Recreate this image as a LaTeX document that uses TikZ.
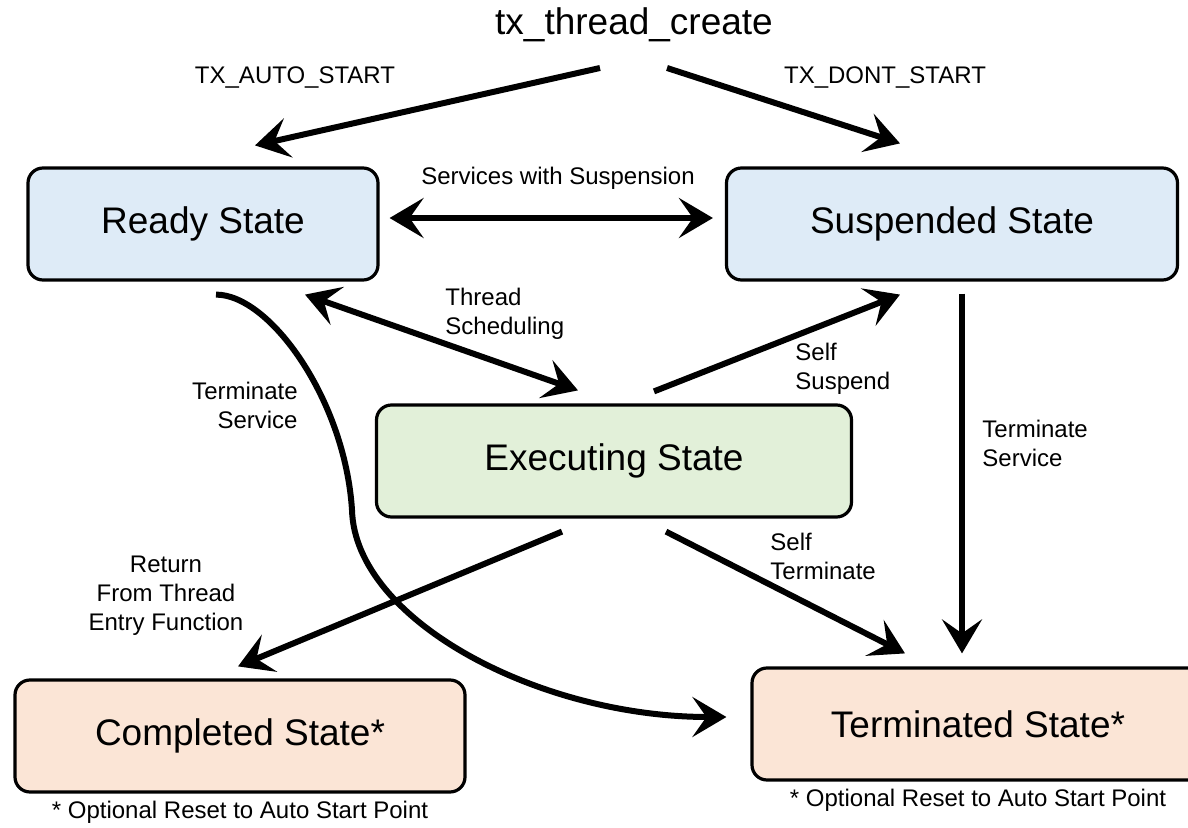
\documentclass[tikz,border=0pt]{standalone}
\usepackage{fontspec}
\setmainfont{Liberation Sans}
\usetikzlibrary{positioning,arrows.meta}

\definecolor{readyblue}{HTML}{DEEBF7}
\definecolor{execgreen}{HTML}{E2F0D9}
\definecolor{donepeach}{HTML}{FBE5D6}

\begin{document}
\begin{tikzpicture}[
    x=0.5pt,y=-0.5pt,on grid,
    >={Stealth[length=17pt,width=20pt,inset=7pt]},
    state/.style={draw,line width=1.6pt,rounded corners=7.5pt,minimum height=56pt,font=\fontsize{18.5}{22}\selectfont},
    lbl/.style={font=\fontsize{12}{14.5}\selectfont,inner sep=1pt},
    flow/.style={line width=3pt}
]
    \useasboundingbox (0,0) rectangle (1188,828);
    %Root
    \node[font=\fontsize{18.5}{22}\selectfont] (create) at (634,25) {tx\_thread\_create};
    %States
    \node[state,fill=readyblue,minimum width=175pt,below left=99.5pt and 215.5pt of create] (ready) {Ready State};
    \node[state,fill=readyblue,minimum width=225.5pt,right=374.5pt of ready] (susp) {Suspended State};
    \node[state,fill=execgreen,minimum width=237.5pt,below right=118.5pt and 205.5pt of ready] (exec) {Executing State};
    \node[state,fill=donepeach,minimum width=225pt,below right=256pt and 18.5pt of ready] (compl) {Completed State*};
    \node[state,fill=donepeach,minimum width=226pt,below right=250pt and 13pt of susp] (term) {Terminated State*};
    \node[lbl,below=38pt of compl] (compl-note) {* Optional Reset to Auto Start Point};
    \node[lbl,below=38pt of term] (term-note) {* Optional Reset to Auto Start Point};
    %Labels
    \node[lbl] (auto-lbl) at (295,78) {TX\_AUTO\_START};
    \node[lbl] (dont-lbl) at (885,78) {TX\_DONT\_START};
    \node[lbl] (svc-lbl) at (558,178) {Services with Suspension};
    \node[lbl,anchor=west,align=left] (sched-lbl) at (443,314) {Thread\\Scheduling};
    \node[lbl,anchor=east,align=right] (kill-lbl) at (300,405) {Terminate\\Service};
    \node[lbl,anchor=west,align=left] (ssusp-lbl) at (793,369) {Self\\Suspend};
    \node[lbl,anchor=west,align=left] (kill2-lbl) at (980,443) {Terminate\\Service};
    \node[lbl,anchor=west,align=left] (sterm-lbl) at (768,556) {Self\\Terminate};
    \node[lbl,align=center] (ret-lbl) at (166,596) {Return\\From Thread\\Entry Function};
    %Transitions
    \draw[flow,->] ([shift={(-34,43)}]create.center) -- ([shift={(52,-21)}]ready.north);
    \draw[flow,->] ([shift={(33,43)}]create.center) -- ([shift={(-52,-23)}]susp.north);
    \draw[flow,<->] ([shift={(10,-6)}]ready.east) -- ([shift={(-12,-6)}]susp.west);
    \draw[flow,<->] ([shift={(102,13)}]ready.south) -- ([shift={(-36,-13)}]exec.north);
    \draw[flow,->] ([shift={(40,-12)}]exec.north) -- ([shift={(-52,13)}]susp.south);
    \draw[flow,->] ([shift={(10,12)}]susp.south) -- ([shift={(-16,-13)}]term.north);
    \draw[flow,->] ([shift={(52,13)}]exec.south) -- ([shift={(-73,-13)}]term.north);
    \draw[flow,->] ([shift={(-52,13)}]exec.south) -- ([shift={(-2,-12)}]compl.north);
    % ready -> terminated goes round the left of the executing box
    \coordinate (bend) at (352,510);
    \draw[flow,->] ([shift={(13,13)}]ready.south) .. controls +(54,0) and +(-7,-110) .. (bend)
        .. controls +(3,110) and +(-188,0) .. ([shift={(-24,-7)}]term.west);
\end{tikzpicture}
\end{document}
